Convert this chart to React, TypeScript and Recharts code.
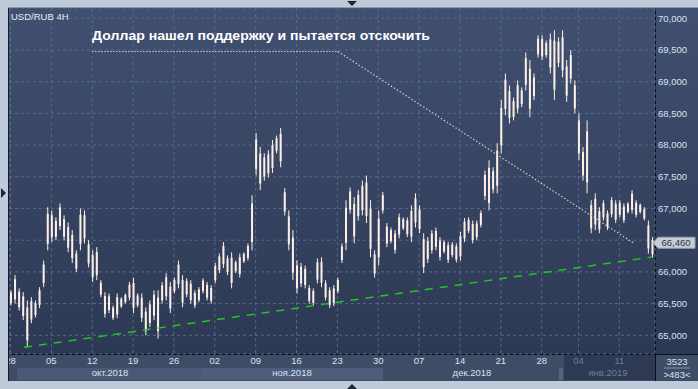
import React from "react";
import { ComposedChart, Bar, XAxis, YAxis, CartesianGrid, ReferenceLine } from "recharts";

// USD/RUB 4H, read as two bars per trading day; index 0 = 28 Sep 2018
const HIGHS = [
  65.71, 65.95, 65.74, 65.68, 65.55, 65.6, 65.55, 65.76, 66.18, 67.02,
  66.97, 66.86, 67.08, 66.89, 66.78, 66.66, 66.34, 67.0, 66.97, 66.5,
  66.34, 66.39, 65.87, 65.68, 65.66, 65.47, 65.66, 65.6, 65.66, 65.84,
  65.91, 65.66, 65.66, 65.44, 65.55, 65.71, 65.71, 65.84, 65.98, 65.84,
  65.91, 66.18, 65.95, 65.9, 65.87, 65.71, 65.76, 65.9, 65.84, 65.79,
  66.14, 66.29, 66.47, 66.26, 66.31, 66.18, 66.29, 66.31, 66.45, 67.21,
  68.19, 67.97, 67.87, 67.92, 68.08, 68.15, 68.27, 67.32, 66.97, 66.66,
  66.18, 66.14, 66.1, 65.79, 65.74, 66.21, 66.23, 65.87, 65.76, 65.79,
  65.91, 66.45, 67.13, 67.33, 67.18, 67.29, 67.44, 67.52, 67.13, 66.34,
  66.97, 67.26, 66.77, 66.7, 66.66, 66.92, 66.86, 66.86, 67.05, 67.24,
  67.05, 66.61, 66.55, 66.66, 66.7, 66.55, 66.5, 66.47, 66.47, 66.45,
  66.63, 66.85, 66.86, 66.81, 66.81, 66.97, 67.6, 67.76, 67.65, 68.03,
  68.71, 69.13, 68.94, 68.75, 69.02, 68.91, 69.46, 69.34, 69.13, 69.73,
  69.73, 69.65, 69.76, 69.81, 69.7, 69.81, 69.34, 69.5, 69.02, 68.5,
  67.97, 68.39, 67.13, 67.24, 67.02, 67.13, 66.97, 67.18, 67.13, 67.13,
  67.08, 67.1, 67.29, 67.13, 67.08, 67.02, 66.81, 66.55,
];
const LOWS = [
  65.47, 65.5, 65.39, 65.24, 64.81, 65.19, 65.28, 65.43, 65.76, 66.34,
  66.47, 66.5, 66.66, 66.5, 66.31, 66.14, 66.0, 66.34, 66.45, 66.07,
  65.84, 65.87, 65.6, 65.28, 65.35, 65.24, 65.27, 65.43, 65.5, 65.55,
  65.35, 65.44, 65.21, 65.0, 65.13, 65.24, 64.95, 65.5, 65.55, 65.35,
  65.66, 65.74, 65.44, 65.6, 65.5, 65.43, 65.52, 65.66, 65.55, 65.5,
  65.82, 65.98, 66.06, 65.95, 65.74, 65.98, 65.91, 66.14, 66.18, 66.34,
  67.52, 67.29, 67.44, 67.49, 67.56, 67.87, 67.65, 66.89, 66.34, 65.87,
  65.66, 65.76, 65.74, 65.5, 65.47, 65.82, 65.76, 65.55, 65.43, 65.46,
  65.66, 66.14, 66.34, 66.92, 66.45, 66.81, 66.89, 66.77, 66.23, 65.91,
  66.1, 66.92, 66.39, 66.45, 66.29, 66.53, 66.66, 66.55, 66.47, 66.7,
  66.61, 65.98, 66.14, 66.29, 66.34, 66.18, 66.29, 66.14, 66.23, 66.15,
  66.18, 66.47, 66.61, 66.45, 66.5, 66.7, 67.13, 66.97, 67.24, 67.24,
  67.87, 68.47, 68.34, 68.39, 68.5, 68.6, 68.86, 68.44, 68.71, 69.38,
  69.34, 69.38, 69.13, 68.71, 69.23, 69.07, 68.68, 68.97, 68.5, 67.76,
  67.44, 67.24, 66.61, 66.66, 66.61, 66.81, 66.66, 66.86, 66.77, 66.86,
  66.77, 66.92, 66.92, 66.86, 66.92, 66.81, 66.29, 66.23,
];

// Friday date labels and the bar index they fall on (1 Jan counts as a half day)
const TICK_INDEX = [0, 10, 20, 30, 40, 50, 60, 70, 80, 90, 100, 110, 120, 130, 139, 149];
const TICK_LABELS = ["28", "05", "12", "19", "26", "02", "09", "16", "23", "30", "07", "14", "21", "28", "04", "11"];
const PRICE_TICKS = [65, 65.5, 66, 66.5, 67, 67.5, 68, 68.5, 69, 69.5, 70];
const LAST_PRICE = 66.46;

// support line and the hand-drawn note pointer (bar index, price)
const SUPPORT = [{ i: 3.3, v: 64.81 }, { i: 157, v: 66.235 }];
const NOTE_PATH = [{ i: 19.97, v: 69.475 }, { i: 80.15, v: 69.475 }, { i: 152.6, v: 66.45 }];

const NOTE = "Доллар нашел поддержку и пытается отскочить";
const FONT = "'Liberation Sans', Arial, sans-serif";
const CANDLE = "#fcefe7";

const data = HIGHS.map((h, i) => ({ i, range: [LOWS[i], h] }));

const fmt = (v: number) => (v === 66.5 ? "" : v.toFixed(3).replace(".", ","));

function DateTick({ x, y, payload }: any) {
  const idx = TICK_INDEX.indexOf(payload.value);
  const dim = payload.value >= 139;
  return (
    <text x={x} y={y} dy="0.71em" textAnchor="middle" fontSize={9.5} fontFamily={FONT} fill={dim ? "#6f7e98" : "#d6e2f0"}>
      {TICK_LABELS[idx]}
    </text>
  );
}

// thin wick over the whole range with a slightly wider body, like the terminal's candles
function Candle({ x, y, width, height }: any) {
  if (height == null || isNaN(height)) return null;
  const cx = x + width / 2;
  return (
    <g>
      <rect x={cx - 0.5} y={y} width={1} height={height} fill={CANDLE} />
      <rect x={cx - 1} y={y + height * 0.15} width={2} height={height * 0.7} fill={CANDLE} />
    </g>
  );
}

function PriceTag({ viewBox }: any) {
  const x = viewBox.x + viewBox.width;
  const y = viewBox.y;
  return (
    <g>
      <path d={`M${x - 2},${y} L${x + 3},${y - 5.5} H${x + 40} V${y + 5.5} H${x + 3} Z`} fill="#c8ccd5" stroke="#9aa2b2" strokeWidth={1} />
      <text x={x + 21} y={y} dy="0.36em" textAnchor="middle" fontSize={9.5} fontFamily={FONT} fill="#28324a">
        {LAST_PRICE.toFixed(3).replace(".", ",")}
      </text>
    </g>
  );
}

export default function App() {
  return (
    <div style={{ position: "absolute", left: 0, top: 0, width: 698, height: 389, background: "#bfcbdb", overflow: "hidden", fontFamily: FONT }}>
      {/* panels */}
      <div style={{ position: "absolute", left: 8, top: 8, width: 690, height: 346, background: "linear-gradient(#415070, #2c3954)" }} />
      <div style={{ position: "absolute", left: 8, top: 354, width: 690, height: 27, background: "#3e4c66" }} />
      <div style={{ position: "absolute", left: 17, top: 368, width: 185, height: 12, background: "#4a5a76" }} />
      <div style={{ position: "absolute", left: 202, top: 368, width: 181, height: 12, background: "#4e5e7a" }} />
      <div style={{ position: "absolute", left: 559, top: 368, width: 4, height: 12, background: "#56657e" }} />
      <div style={{ position: "absolute", left: 564, top: 355, width: 91, height: 25, background: "#2e3a53" }} />
      <div style={{ position: "absolute", left: 8, top: 7, width: 690, height: 1, background: "#8c99ad" }} />
      <div style={{ position: "absolute", left: 8, top: 8, width: 1, height: 373, background: "#141a26" }} />
      <div style={{ position: "absolute", left: 8, top: 354, width: 690, height: 1, background: "#0c1018" }} />
      <div style={{ position: "absolute", left: 655, top: 8, width: 1, height: 373, background: "#0c1018" }} />

      <div style={{ position: "absolute", left: 9, top: 8 }}>
        <ComposedChart width={689} height={373} data={data} margin={{ top: 0, right: 0, bottom: 0, left: 0 }}>
          <CartesianGrid stroke="#586a8a" strokeDasharray="3 3" />
          <XAxis
            dataKey="i"
            type="number"
            domain={[-0.367, 157.73]}
            ticks={TICK_INDEX}
            tick={<DateTick />}
            interval={0}
            height={27}
            tickSize={0}
            tickMargin={3}
            axisLine={false}
            allowDataOverflow
          />
          <YAxis
            orientation="right"
            domain={[64.705, 70.162]}
            ticks={PRICE_TICKS}
            tickFormatter={fmt}
            interval={0}
            width={43}
            tickSize={0}
            tickMargin={3}
            axisLine={false}
            tick={{ fill: "#d6e2f0", fontSize: 9.5, fontFamily: FONT }}
            allowDataOverflow
          />
          <Bar dataKey="range" barSize={3} fill={CANDLE} shape={<Candle />} isAnimationActive={false} />
          <ReferenceLine
            segment={[{ x: SUPPORT[0].i, y: SUPPORT[0].v }, { x: SUPPORT[1].i, y: SUPPORT[1].v }]}
            stroke="#22c322"
            strokeWidth={1.5}
            strokeDasharray="8 7"
            ifOverflow="visible"
          />
          <ReferenceLine
            segment={[{ x: NOTE_PATH[0].i, y: NOTE_PATH[0].v }, { x: NOTE_PATH[1].i, y: NOTE_PATH[1].v }]}
            stroke="#c9ced8"
            strokeWidth={1}
            strokeDasharray="1.5 1.5"
            ifOverflow="visible"
          />
          <ReferenceLine
            segment={[{ x: NOTE_PATH[1].i, y: NOTE_PATH[1].v }, { x: NOTE_PATH[2].i, y: NOTE_PATH[2].v }]}
            stroke="#c9ced8"
            strokeWidth={1.2}
            strokeDasharray="1.5 2"
            ifOverflow="visible"
          />
          <ReferenceLine y={LAST_PRICE} stroke="none" label={<PriceTag />} ifOverflow="visible" />
        </ComposedChart>
      </div>

      <svg width={698} height={389} style={{ position: "absolute", left: 0, top: 0, pointerEvents: "none" }}>
        <text x={11} y={20} fontSize={9.5} fill="#e6ecf5" fontFamily={FONT}>USD/RUB 4H</text>
        <text x={92} y={40} fontSize={13} fontWeight="bold" fill="#ffffff" fontFamily={FONT} textLength={338} lengthAdjust="spacingAndGlyphs">
          {NOTE}
        </text>
        <text x={110} y={376} fontSize={9.5} fill="#d6e2f0" textAnchor="middle" fontFamily={FONT}>окт.2018</text>
        <text x={292} y={376} fontSize={9.5} fill="#d6e2f0" textAnchor="middle" fontFamily={FONT}>ноя.2018</text>
        <text x={472} y={376} fontSize={9.5} fill="#d6e2f0" textAnchor="middle" fontFamily={FONT}>дек.2018</text>
        <text x={608} y={376} fontSize={9.5} fill="#6f7e98" textAnchor="middle" fontFamily={FONT}>янв.2019</text>
        <text x={677} y={365} fontSize={9.5} fill="#d6e2f0" textAnchor="middle" fontFamily={FONT}>3523</text>
        <line x1={664} x2={690} y1={368} y2={368} stroke="#8593ab" />
        <text x={677} y={378} fontSize={9.5} fill="#d6e2f0" textAnchor="middle" fontFamily={FONT}>&gt;483&lt;</text>
        <path d="M347,1 L357,1 L352,6 Z" fill="#1c2434" />
        <path d="M1,188 L6,193 L1,198 Z" fill="#1c2434" />
        <path d="M347,389 L357,389 L352,384 Z" fill="#1c2434" />
      </svg>
    </div>
  );
}
